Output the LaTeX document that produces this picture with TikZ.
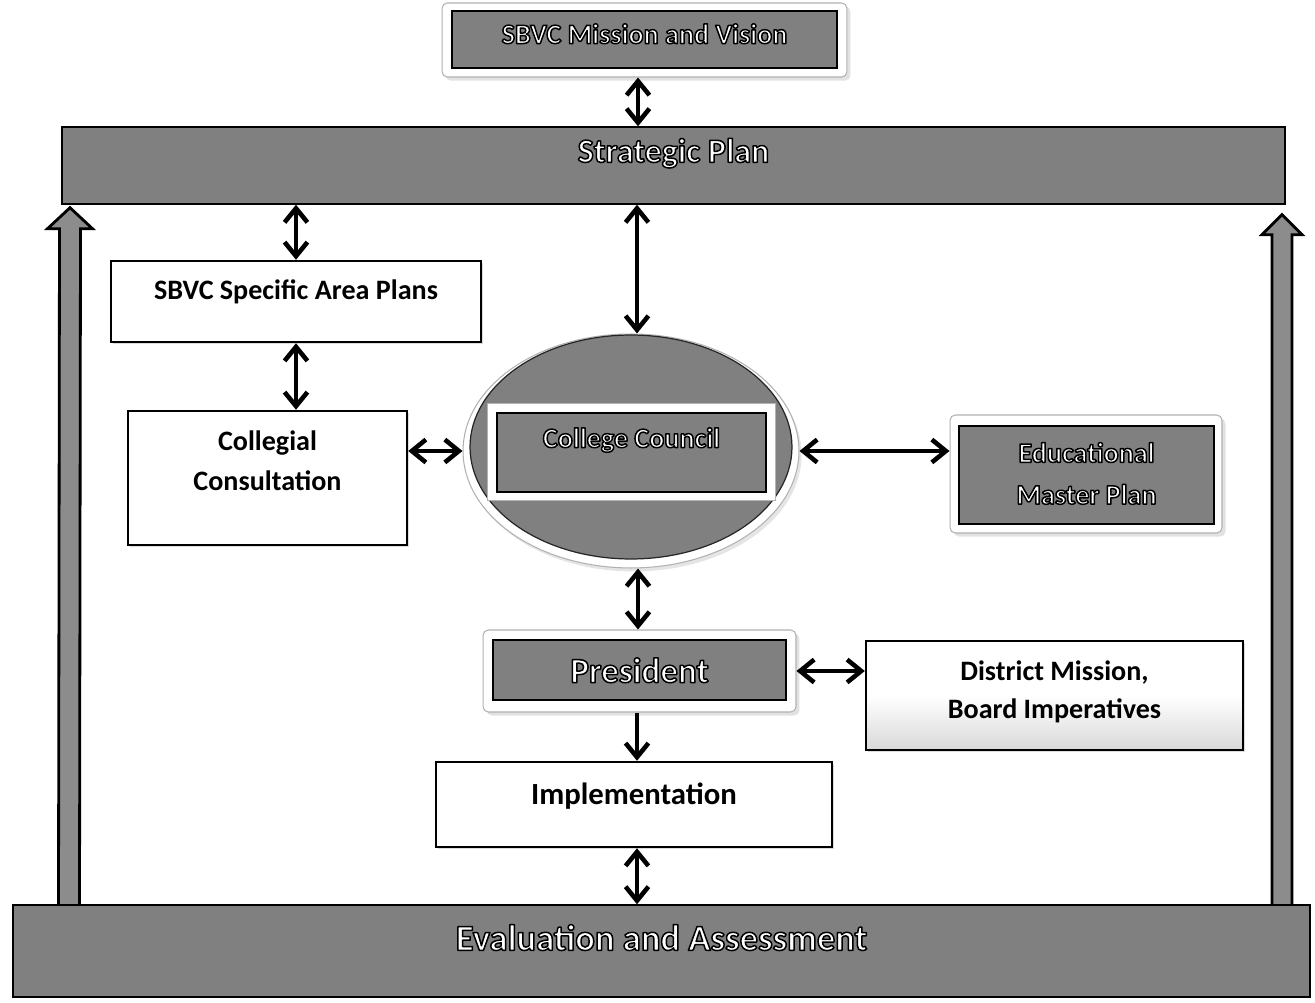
\documentclass[tikz,border=0pt]{standalone}
\usepackage{fontspec}
\setmainfont{Carlito}
\usetikzlibrary{arrows.meta,shapes.geometric,shadows,calc,backgrounds}
\definecolor{dk}{gray}{0.50}
\definecolor{arrowfill}{gray}{0.55}
\newcommand\lift[2]{\raisebox{\dimexpr#1-0.3em\relax}[0pt][0pt]{\begin{tabular}{@{}c@{}}#2\end{tabular}}}
\newcommand\wt[1]{\special{pdf:code 0 0 0 RG 2 Tr 0.85 w 1 j}#1\special{pdf:code 0 Tr}}
\newcommand\fs[2]{\fontsize{#1}{#2}\selectfont\bfseries}
\begin{document}
\begin{tikzpicture}[x=0.02cm,y=-0.02cm,
  tipb/.tip={Straight Barb[length=8pt,width=13pt]},
  dbl/.style={tipb-tipb, line width=2.6pt},
  one/.style={-tipb, line width=2.6pt},
  darkbox/.style={rectangle, fill=dk, draw=black, line width=0.8pt, text=white, inner sep=0pt},
  framebox/.style={rectangle, rounded corners=3pt, fill=white, draw=gray!60, line width=0.6pt, inner sep=0pt,
     drop shadow={shadow xshift=2pt, shadow yshift=-2pt, fill=gray!45}},
  wbox/.style={rectangle, fill=white, draw=black, line width=1.4pt, inner sep=0pt,
     drop shadow={shadow xshift=1.2pt, shadow yshift=-1.2pt, fill=gray!55}},
  bigarr/.style={fill=arrowfill, draw=black, line width=1.6pt, line join=miter}
]
\useasboundingbox (0,0) rectangle (1315,1003);

% top
\node[framebox, minimum width=8.1cm, minimum height=1.48cm] (mvf) at (644.5,40) {};
\node[darkbox, minimum width=7.7cm, minimum height=1.14cm, font=\fs{16}{19}] (mv) at (644.5,39.5) {\lift{0.7mm}{\wt{SBVC Mission and Vision}}};

\node[darkbox, minimum width=24.46cm, minimum height=1.54cm, font=\fs{19.3}{22}] (sp) at (673.5,165.5) {\lift{2.4mm}{\wt{Strategic Plan}}};

\node[darkbox, minimum width=25.94cm, minimum height=1.84cm, font=\fs{20.8}{24}] (ea) at (661.5,951) {\lift{2.2mm}{\wt{Evaluation and Assessment}}};

% left column
\node[wbox, minimum width=7.4cm, minimum height=1.62cm, font=\fs{16}{20}] (sap) at (296,301.5) {\lift{1.9mm}{SBVC Specific Area Plans}};
\node[wbox, minimum width=5.58cm, minimum height=2.68cm, font=\fs{16}{22.7}] (coll) at (267.5,478) {\lift{3.2mm}{Collegial\\Consultation}};

% college council
\node[ellipse, minimum width=6.72cm, minimum height=4.68cm, fill=white, draw=gray!60, line width=0.6pt,
      drop shadow={shadow xshift=1.5pt, shadow yshift=-2pt, fill=gray!40}] (cc) at (631,451) {};
\node[ellipse, minimum width=6.44cm, minimum height=4.48cm, fill=dk, draw=black!85, line width=0.7pt] (cci) at (631,447) {};
\node[rectangle, fill=white, draw=gray!60, line width=0.5pt, minimum width=5.76cm, minimum height=1.94cm, inner sep=0pt] (ccf) at (631,451.5) {};
\node[darkbox, minimum width=5.38cm, minimum height=1.58cm, font=\fs{16}{19}] (ccb) at (631.5,452.5) {\lift{2.5mm}{\wt{College Council}}};

% educational master plan
\node[framebox, minimum width=5.44cm, minimum height=2.36cm] (empf) at (1086,474) {};
\node[darkbox, minimum width=5.1cm, minimum height=1.96cm, font=\fs{16}{23.8}] (emp) at (1086.5,475) {\lift{0.2mm}{\wt{Educational}\\\wt{Master Plan}}};

% president
\node[framebox, minimum width=6.26cm, minimum height=1.64cm] (presf) at (639.5,671) {};
\node[darkbox, minimum width=5.86cm, minimum height=1.2cm, font=\fs{20}{23}] (pres) at (639.5,670) {\lift{-0.6mm}{\wt{President}}};

% district
\node[wbox, top color=white, bottom color=gray!30, middle color=white, minimum width=7.54cm, minimum height=2.18cm, font=\fs{16}{21.5}] (dist) at (1054.5,695.5) {\lift{0.9mm}{District Mission,\\Board Imperatives}};

% implementation
\node[wbox, minimum width=7.92cm, minimum height=1.7cm, font=\fs{17.5}{21}] (impl) at (634,804.5) {\lift{1.9mm}{Implementation}};

% connectors
\draw[dbl] (mvf.south -| 638,0) -- (sp.north -| 638,0);
\draw[dbl] (sp.south -| sap.north) -- (sap.north);
\draw[dbl] (sap.south) -- (sap.south |- coll.north);
\draw[dbl] (sp.south -| 637,0) -- (cc.north -| 637,0);
\draw[dbl] (coll.east |- cc.west) -- (cc.west);
\draw[dbl] (cc.east) -- (cc.east -| empf.west);
\draw[dbl] (cc.south -| 638,0) -- (presf.north -| 638,0);
\draw[dbl] (presf.east) -- (presf.east -| dist.west);
\draw[one] (presf.south -| 637,0) -- (impl.north -| 637,0);
\draw[dbl] (impl.south -| 637,0) -- (ea.north -| 637,0);

% side arrows
\begin{pgfonlayer}{background}
\fill[white] (0,0) rectangle (1315,1003);
\coordinate (lb) at (ea.north -| 69,0);
\coordinate (lt) at ($(sp.south -| 70,0)+(0,3)$);
\draw[bigarr] ($(lb)+(-10.5,5)$) -- ($(lt)+(-10.5,21)$) -- ($(lt)+(-22.5,21)$) -- (lt) -- ($(lt)+(22.5,21)$) -- ($(lt)+(10.5,21)$) -- ($(lb)+(10.5,5)$) -- cycle;
\coordinate (rb) at (ea.north -| 1282,0);
\coordinate (rt) at ($(sp.south -| 1282,0)+(0,10)$);
\draw[bigarr] ($(rb)+(-10,5)$) -- ($(rt)+(-10,20)$) -- ($(rt)+(-20,20)$) -- (rt) -- ($(rt)+(20,20)$) -- ($(rt)+(10,20)$) -- ($(rb)+(10,5)$) -- cycle;
\end{pgfonlayer}
\end{tikzpicture}
\end{document}
